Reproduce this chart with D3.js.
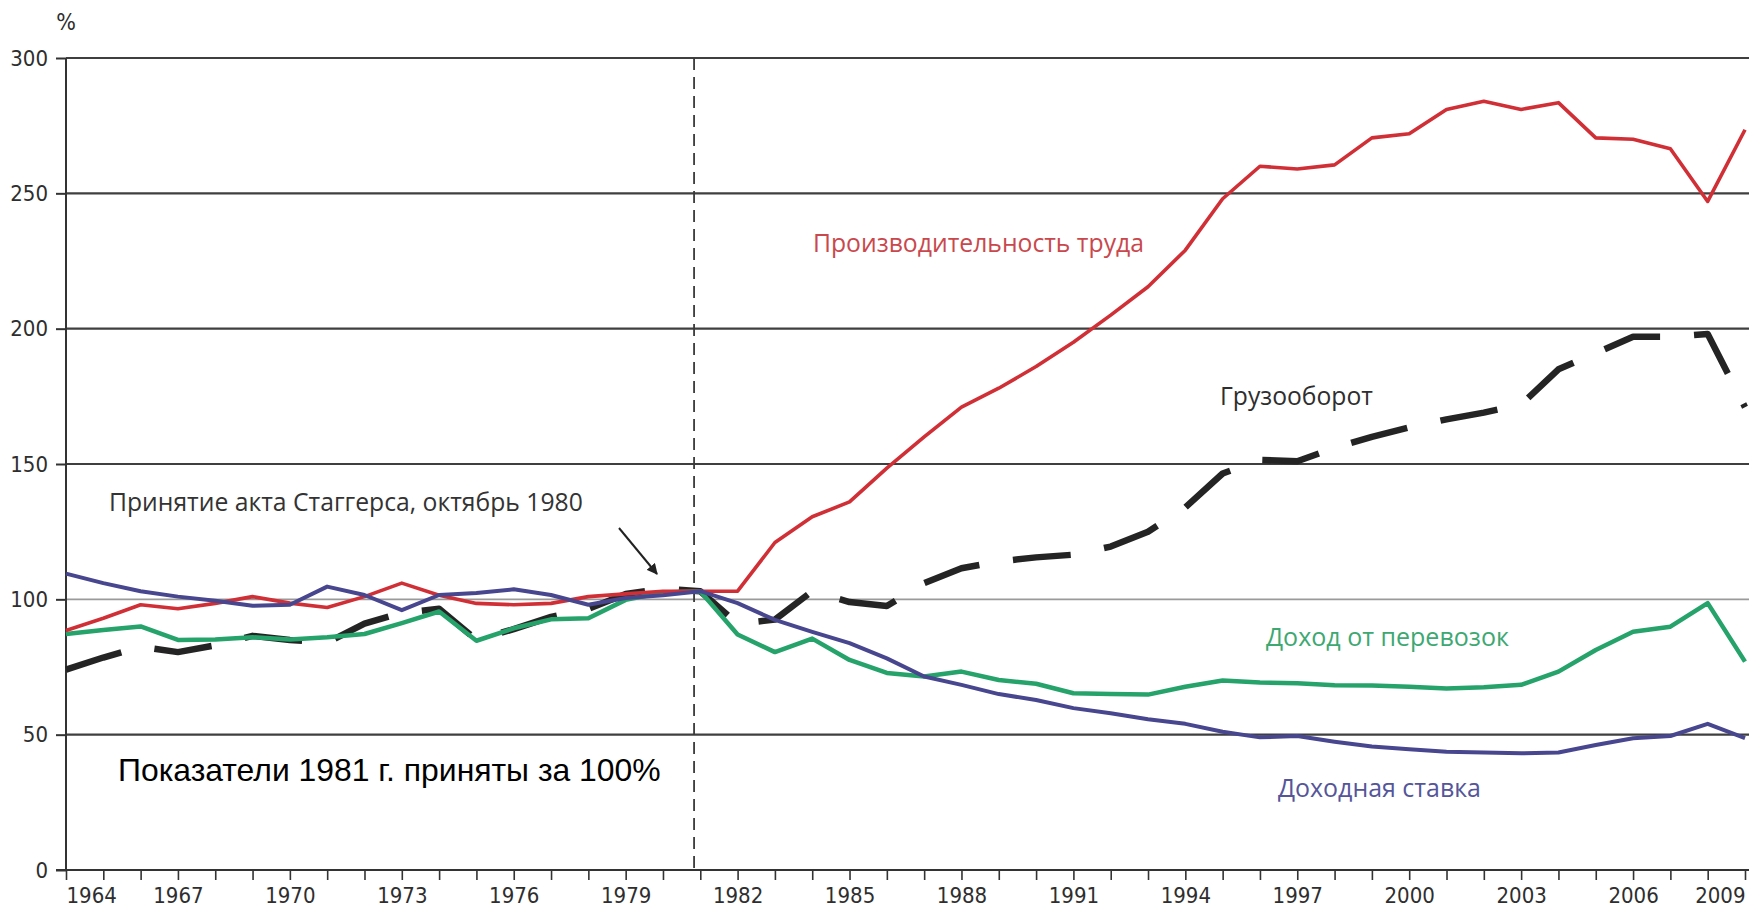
<!DOCTYPE html>
<html>
<head>
<meta charset="utf-8">
<script src="https://cdn.jsdelivr.net/npm/d3@7"></script>
<style>
  html, body { margin: 0; padding: 0; background: #ffffff; }
  svg { display: block; }
</style>
</head>
<body>
<svg id="chart" width="1749" height="907"></svg>
<script>
// ---------------- DATA ----------------
const years = [1964,1965,1966,1967,1968,1969,1970,1971,1972,1973,1974,1975,1976,1977,1978,1979,
  1980,1981,1982,1983,1984,1985,1986,1987,1988,1989,1990,1991,1992,1993,1994,1995,1996,1997,
  1998,1999,2000,2001,2002,2003,2004,2005,2006,2007,2008,2009];

// Производительность труда (red)
const productivity = [88.5,93,98,96.5,98.5,101,98.6,97,101,106,101.5,98.5,98,98.5,101,102,
  103,103,103,121,130.5,136,148.5,160,171,178,186,195,205,215.5,229,248,260,259,
  260.5,270.5,272,281,284,281,283.5,270.5,270,266.5,247,273.5];

// Грузооборот (black dashed)
const freight = [74,78.5,82.5,80.5,83,86.5,85,84,91,95,96.5,85,89,93.5,96.5,102,
  104,103,91,92.5,103,99,97.5,106,111.5,114,115.5,116.5,119.5,125,134,146.5,151.5,151,
  156,160,163.5,166.5,169,172,185,191,197,197,198,171];

// Доход от перевозок (green)
const revenue = [87.2,88.7,90,85,85.2,86,85.2,86,87.2,91.2,95.5,84.7,89.3,92.6,93,99.8,
  102.5,103,87,80.5,85.5,77.6,72.8,71.5,73.3,70.2,68.8,65.3,65,64.8,67.7,70,69.3,69,
  68.3,68.2,67.7,67.1,67.5,68.4,73.3,81.3,88,89.9,98.6,77];

// Доходная ставка (blue)
const rate = [109.5,106,103,101,99.5,97.6,98,104.7,101.6,96,101.6,102.3,103.7,101.6,98,100.5,
  101.5,103,98.6,92.4,88,83.8,78.2,71.5,68.4,65,62.8,59.8,57.9,55.7,54,51.1,49,49.5,
  47.4,45.6,44.6,43.7,43.4,43.1,43.4,46.2,48.7,49.5,54,48.7];

const yTicks = [0,50,100,150,200,250,300];
const xLabelYears = [1964,1967,1970,1973,1976,1979,1982,1985,1988,1991,1994,1997,2000,2003,2006,2009];
const staggersDate = 1980 + 10/12;   // October 1980

const seriesLabels = {
  productivity: "Производительность труда",
  freight: "Грузооборот",
  revenue: "Доход от перевозок",
  rate: "Доходная ставка"
};
const annotationText = "Принятие акта Стаггерса, октябрь 1980";
const noteText = "Показатели 1981 г. приняты за 100%";

// ---------------- CHART ----------------
const W = 1749, H = 907;
const svg = d3.select("#chart");
const x = d3.scaleLinear().domain([1964, 2009]).range([66, 1745]);
const y = d3.scaleLinear().domain([0, 300]).range([870, 58]);

const narrow = "'Liberation Sans Narrow','DejaVu Sans Condensed','Arial Narrow',sans-serif";
const humanist = "'Open Sans','Noto Sans',sans-serif";

svg.append("rect").attr("width", W).attr("height", H).attr("fill", "#ffffff");

// gridlines
svg.append("g").selectAll("line")
  .data(yTicks.filter(v => v > 0))
  .join("line")
  .attr("x1", x(1964)).attr("x2", W)
  .attr("y1", d => y(d)).attr("y2", d => y(d))
  .attr("stroke", d => d === 100 ? "#9a9a9a" : "#3f3f3f")
  .attr("stroke-width", d => d === 100 ? 1.6 : 2.2);

// y axis
const yAxis = svg.append("g")
  .attr("transform", `translate(${x(1964)},0)`)
  .call(d3.axisLeft(y).tickValues(yTicks).tickSize(10).tickPadding(8).tickFormat(d3.format("d")));
yAxis.select(".domain").remove();
yAxis.selectAll(".tick line").attr("stroke", "#333").attr("stroke-width", 2);
yAxis.selectAll(".tick text").attr("fill", "#2e2e2e").style("font-family", narrow).style("font-size", "22px");
svg.append("line")
  .attr("x1", x(1964)).attr("x2", x(1964))
  .attr("y1", y(300)).attr("y2", y(0))
  .attr("stroke", "#333").attr("stroke-width", 2);

// "%" unit
svg.append("text")
  .attr("x", x(1964)).attr("y", 30)
  .attr("text-anchor", "middle")
  .attr("fill", "#2e2e2e")
  .style("font-family", narrow).style("font-size", "23px")
  .text("%");

// x axis
const xAxis = svg.append("g")
  .attr("transform", `translate(0,${y(0)})`)
  .call(d3.axisBottom(x).tickValues(years).tickSize(10).tickPadding(7)
    .tickFormat(d => xLabelYears.includes(d) ? String(d) : ""));
xAxis.select(".domain").remove();
xAxis.selectAll(".tick line").attr("stroke", "#333").attr("stroke-width", 1.6);
xAxis.selectAll(".tick text").attr("fill", "#2e2e2e").style("font-family", narrow).style("font-size", "22px")
  .attr("text-anchor", d => d === 1964 ? "start" : (d === 2009 ? "end" : "middle"));
svg.append("line")
  .attr("x1", x(1964) - 10).attr("x2", W)
  .attr("y1", y(0)).attr("y2", y(0))
  .attr("stroke", "#333").attr("stroke-width", 2);

// Staggers act vertical dashed line
svg.append("line")
  .attr("x1", x(staggersDate)).attr("x2", x(staggersDate))
  .attr("y1", y(300)).attr("y2", y(0))
  .attr("stroke", "#3a3a3a").attr("stroke-width", 1.8)
  .attr("stroke-dasharray", "12,7");

// lines
const mk = arr => d3.line().x((d, i) => x(years[i])).y(d => y(d))(arr);

svg.append("path").attr("d", mk(freight))
  .attr("fill", "none").attr("stroke", "#242424").attr("stroke-width", 6.5)
  .attr("stroke-dasharray", "58,34").attr("stroke-linejoin", "round");
svg.append("path").attr("d", mk(revenue))
  .attr("fill", "none").attr("stroke", "#25a36a").attr("stroke-width", 4.5).attr("stroke-linejoin", "round");
svg.append("path").attr("d", mk(productivity))
  .attr("fill", "none").attr("stroke", "#d02f36").attr("stroke-width", 3.6).attr("stroke-linejoin", "round");
svg.append("path").attr("d", mk(rate))
  .attr("fill", "none").attr("stroke", "#47468f").attr("stroke-width", 4).attr("stroke-linejoin", "round");

// helper to fit a label to a width
function fitText(sel, width) {
  const node = sel.node();
  const w = node.getComputedTextLength();
  const fs = parseFloat(sel.style("font-size"));
  if (w > 0) sel.style("font-size", (fs * width / w) + "px");
}

// series labels
const lbl = (txt, lx, ly, color, width, family) => {
  const t = svg.append("text").attr("x", lx).attr("y", ly)
    .attr("fill", color).style("font-family", family || humanist).style("font-size", "22px")
    .text(txt);
  fitText(t, width);
  return t;
};
lbl(seriesLabels.productivity, 813, 252, "#c9484d", 331);
lbl(seriesLabels.freight, 1220, 405, "#2e2e2e", 153);
lbl(seriesLabels.revenue, 1266, 646, "#3da872", 243);
lbl(seriesLabels.rate, 1278, 797, "#55559a", 203);
lbl(annotationText, 109, 511, "#333333", 474);

// note (plain sans)
lbl(noteText, 118, 781, "#000000", 543, "'Liberation Sans',Arial,sans-serif");

// arrow
const defs = svg.append("defs");
defs.append("marker").attr("id", "arrow")
  .attr("viewBox", "0 0 10 10").attr("refX", 9).attr("refY", 5)
  .attr("markerWidth", 5.5).attr("markerHeight", 5.5).attr("orient", "auto")
  .append("path").attr("d", "M0,0 L10,5 L0,10 z").attr("fill", "#222");
svg.append("line")
  .attr("x1", 619).attr("y1", 528).attr("x2", 657).attr("y2", 574)
  .attr("stroke", "#222").attr("stroke-width", 2)
  .attr("marker-end", "url(#arrow)");
</script>
</body>
</html>
